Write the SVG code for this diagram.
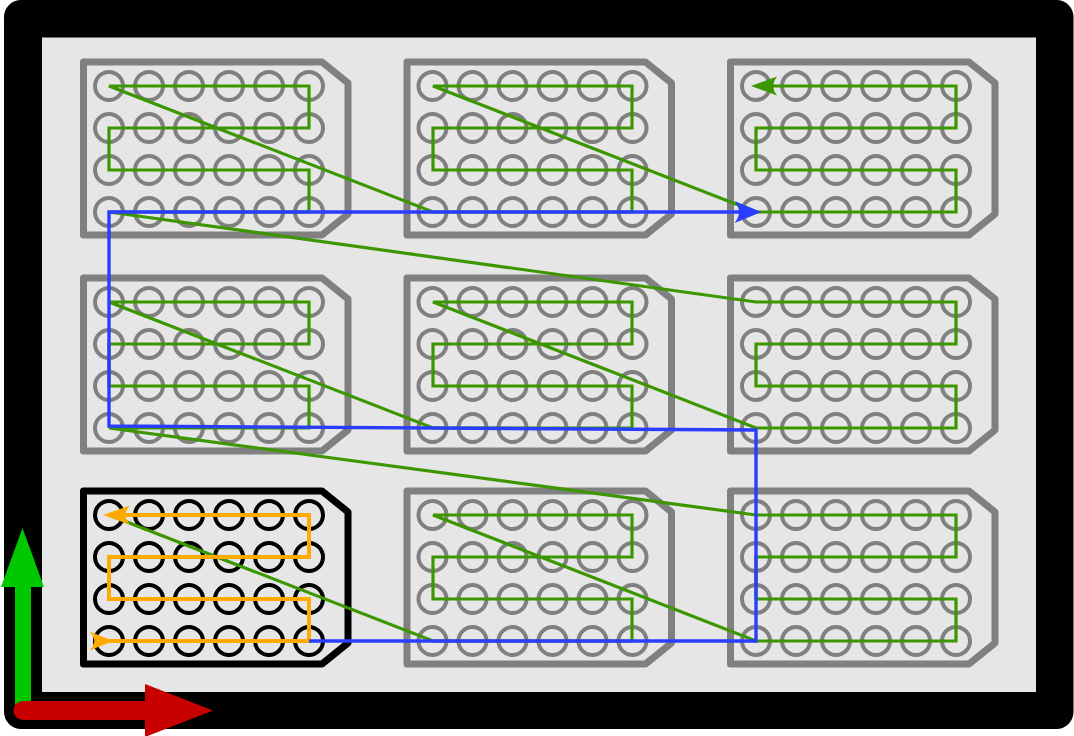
<svg xmlns="http://www.w3.org/2000/svg" xmlns:xlink="http://www.w3.org/1999/xlink" width="1074" height="736" viewBox="0 0 1074 736">
<style>
.plate{stroke:#808080}
.active{stroke:#000}
.pg{fill:none;stroke:#3c9600;stroke-width:3.2;stroke-linejoin:miter}
.po{fill:none;stroke:#ffaa00;stroke-width:4}
.pb{fill:none;stroke:#2a3dff;stroke-width:3.4}
</style>
<defs>
<g id="plateShape">
<path d="M83.5,62 H322 L348,83 V214 L322,235 H83.5 Z" fill="#e6e6e6" stroke-width="7" stroke-linejoin="round"/>
<g fill="none" stroke-width="4">
<circle cx="109" cy="86" r="14"/><circle cx="149" cy="86" r="14"/><circle cx="189" cy="86" r="14"/><circle cx="229" cy="86" r="14"/><circle cx="269" cy="86" r="14"/><circle cx="309" cy="86" r="14"/>
<circle cx="109" cy="128" r="14"/><circle cx="149" cy="128" r="14"/><circle cx="189" cy="128" r="14"/><circle cx="229" cy="128" r="14"/><circle cx="269" cy="128" r="14"/><circle cx="309" cy="128" r="14"/>
<circle cx="109" cy="170" r="14"/><circle cx="149" cy="170" r="14"/><circle cx="189" cy="170" r="14"/><circle cx="229" cy="170" r="14"/><circle cx="269" cy="170" r="14"/><circle cx="309" cy="170" r="14"/>
<circle cx="109" cy="212" r="14"/><circle cx="149" cy="212" r="14"/><circle cx="189" cy="212" r="14"/><circle cx="229" cy="212" r="14"/><circle cx="269" cy="212" r="14"/><circle cx="309" cy="212" r="14"/>
</g>
</g>
<marker id="ahGreen" markerUnits="userSpaceOnUse" orient="auto" overflow="visible" refX="-5" refY="0" markerWidth="1" markerHeight="1">
<path d="M0,0 L-26,-9.5 C-21,-3 -21,3 -26,9.5 Z" fill="#3c9600"/>
</marker>
<marker id="ahBlue" markerUnits="userSpaceOnUse" orient="auto" overflow="visible" refX="-5.5" refY="0" markerWidth="1" markerHeight="1">
<path d="M0,0 L-27,-11 C-21,-3.5 -21,3.5 -27,11 Z" fill="#2a3dff"/>
</marker>
<marker id="ahOrangeEnd" markerUnits="userSpaceOnUse" orient="auto" overflow="visible" refX="-6" refY="0" markerWidth="1" markerHeight="1">
<path d="M0,0 L-27,-9.5 C-21,-3 -21,3 -27,9.5 Z" fill="#ffaa00"/>
</marker>
<marker id="ahOrangeStart" markerUnits="userSpaceOnUse" orient="auto" overflow="visible" refX="-4" refY="0" markerWidth="1" markerHeight="1">
<path d="M0,0 L-23.5,-9.5 C-17,-3 -17,3 -23.5,9.5 Z" fill="#ffaa00"/>
</marker>
</defs>

<g id="frame">
<rect x="4" y="0" width="1069.5" height="729" rx="17" ry="17" fill="#000"/>
<rect x="42" y="37.5" width="994" height="654.5" fill="#e6e6e6"/>
</g>

<g id="plate-r1c1" class="plate" transform="translate(0,0)"><use xlink:href="#plateShape"/></g>
<g id="plate-r1c2" class="plate" transform="translate(323.5,0)"><use xlink:href="#plateShape"/></g>
<g id="plate-r1c3" class="plate" transform="translate(647,0)"><use xlink:href="#plateShape"/></g>
<g id="plate-r2c1" class="plate" transform="translate(0,216)"><use xlink:href="#plateShape"/></g>
<g id="plate-r2c2" class="plate" transform="translate(323.5,216)"><use xlink:href="#plateShape"/></g>
<g id="plate-r2c3" class="plate" transform="translate(647,216)"><use xlink:href="#plateShape"/></g>
<g id="plate-r3c1" class="plate active" transform="translate(0,429)"><use xlink:href="#plateShape"/></g>
<g id="plate-r3c2" class="plate" transform="translate(323.5,429)"><use xlink:href="#plateShape"/></g>
<g id="plate-r3c3" class="plate" transform="translate(647,429)"><use xlink:href="#plateShape"/></g>

<g id="connectors">
<path id="well-path" class="pg" marker-end="url(#ahGreen)" d="M109,515 L433,641 H632 V599 H433 V557 H632 V515 H433 L756,641 H956 V599 H756 V557 H956 V515 H756 L109,428 H309 V386 H109 V344 H309 V302 H109 L433,428 H632 V386 H433 V344 H632 V302 H433 L756,428 H956 V386 H756 V344 H956 V302 H756 L109,212 H309 V170 H109 V128 H309 V86 H109 L433,212 H632 V170 H433 V128 H632 V86 H433 L756,212 H956 V170 H756 V128 H956 V86 H756"/>
<path id="current-plate-path" class="po" marker-start="url(#ahOrangeStart)" marker-end="url(#ahOrangeEnd)" d="M109,641 H309 V599 H109 V557 H309 V515 H109"/>
<path id="plate-order-path" class="pb" marker-end="url(#ahBlue)" d="M309,641 H756 V430 L109,426 V212 H756"/>
</g>

<g id="axes">
<path id="axis-y" d="M15,705 V587 H1 L22.5,528 L44,587 H31 V705 Z" fill="#00c800"/>
<g id="axis-x">
<line x1="23" y1="710.5" x2="147" y2="710.5" stroke="#c80000" stroke-width="19" stroke-linecap="round"/>
<path d="M145,684 L213,710.5 L145,737 Z" fill="#c80000"/>
</g>
</g>
</svg>
